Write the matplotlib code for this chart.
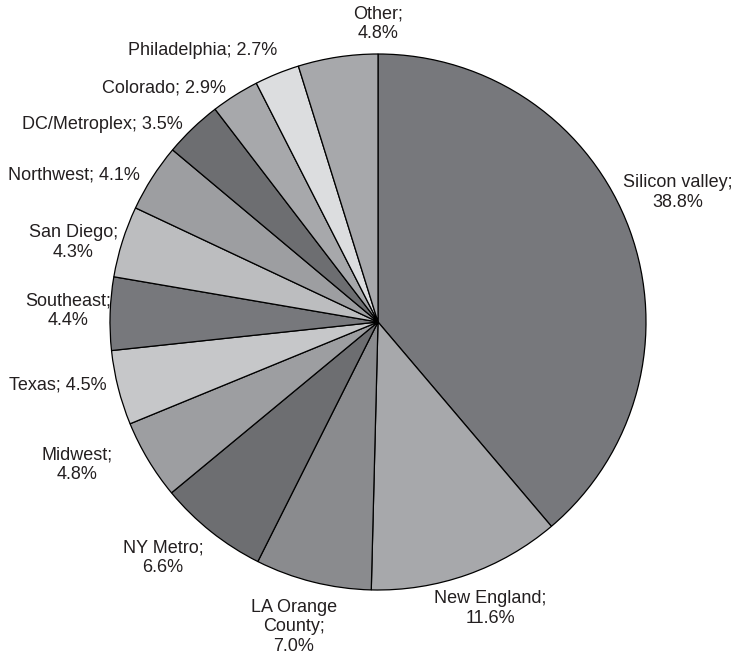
import numpy as np
import matplotlib
matplotlib.use("Agg")
import matplotlib.pyplot as plt

plt.rcParams['font.family'] = ['Liberation Sans', 'DejaVu Sans']

regions = ["Silicon valley", "New England", "LA Orange\nCounty", "NY Metro", "Midwest",
           "Texas", "Southeast", "San Diego", "Northwest", "DC/Metroplex",
           "Colorado", "Philadelphia", "Other"]
shares = [38.8, 11.6, 7.0, 6.6, 4.8, 4.5, 4.4, 4.3, 4.1, 3.5, 2.9, 2.7, 4.8]
colors = ["#77787c", "#a7a8ab", "#8a8b8e", "#6d6e71", "#9d9ea1", "#c6c7c9", "#77787c",
          "#bcbdbf", "#9d9ea1", "#6d6e71", "#a7a8ab", "#dcdddf", "#a7a8ab"]
# label layout: whether value goes on a new line, and offset (pixels) from wedge edge
newline = [True, True, True, True, True, False, True, True, False, False, False, False, True]
offsets = [(48, 37), (23, -34), (-19, -45), (-48, -26), (-71, -5), (-60, 3), (-42, 3),
           (-49, -1), (-78, 3), (-90, 4), (-71, 7), (-74, 23), (40, 33)]

W, H, dpi = 736, 655, 100
fig = plt.figure(figsize=(W / dpi, H / dpi), dpi=dpi)
ax = fig.add_axes([0, 0, 1, 1])
R = 268.0
cx, cy = 378.0, 322.0

wedges, _ = ax.pie(shares, colors=colors, startangle=90, counterclock=False, radius=1.0,
                   wedgeprops=dict(edgecolor='black', linewidth=0.9))
ax.set_aspect('auto')
ax.set_xlim(-cx / R, (W - cx) / R)
ax.set_ylim(-(H - cy) / R, cy / R)
ax.axis('off')

for w, name, val, nl, off in zip(wedges, regions, shares, newline, offsets):
    mid = np.deg2rad((w.theta1 + w.theta2) / 2)
    x, y = np.cos(mid), np.sin(mid)
    sep = ";\n" if nl else "; "
    txt = f"{name}{sep}{val:.1f}%"
    ax.annotate(txt, xy=(x, y), xytext=off, textcoords='offset pixels',
                ha='center', va='center', fontsize=13, color='#231f20',
                multialignment='center', linespacing=1.2)

fig.savefig("out.png", dpi=dpi, facecolor='white')
